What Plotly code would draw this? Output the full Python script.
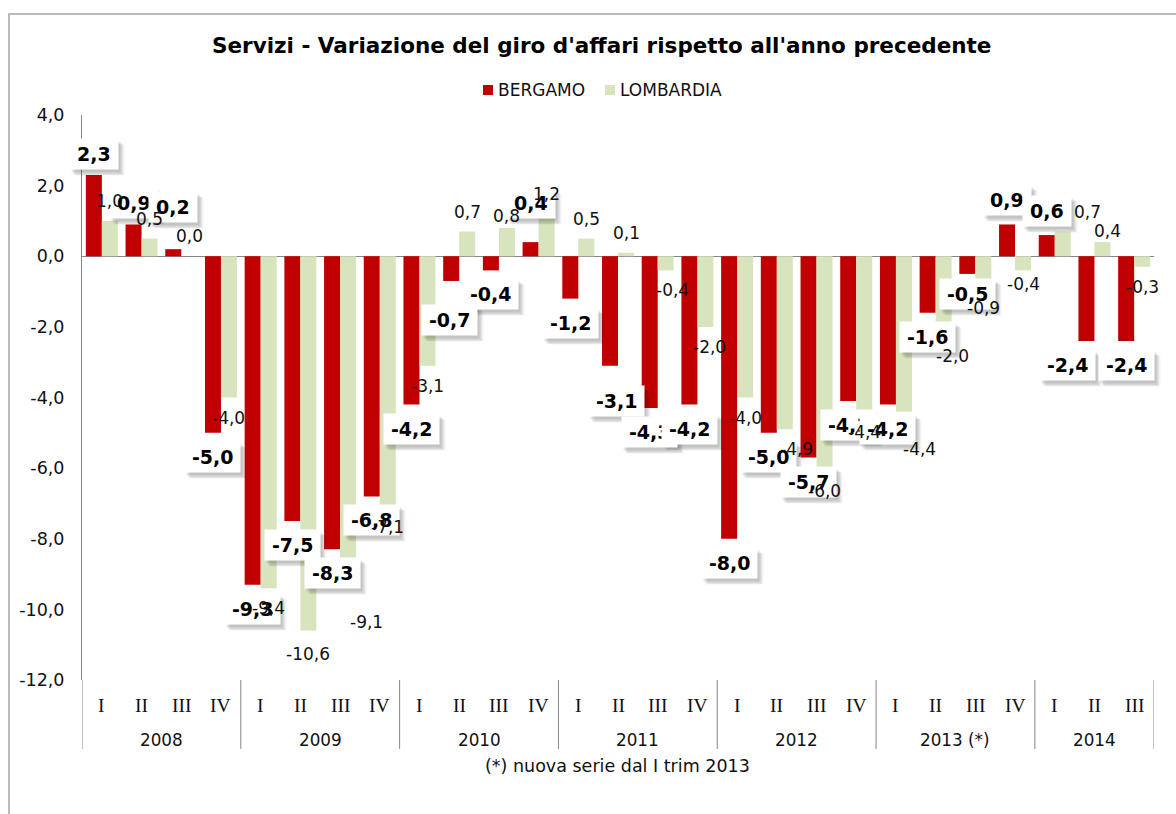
import plotly.graph_objects as go

# ---- data -------------------------------------------------------------
quarters = ["I", "II", "III", "IV"] * 6 + ["I", "II", "III"]
years = ["2008", "2009", "2010", "2011", "2012", "2013 (*)", "2014"]
quarters_per_year = [4, 4, 4, 4, 4, 4, 3]

bergamo = [2.3, 0.9, 0.2, -5.0,
           -9.3, -7.5, -8.3, -6.8,
           -4.2, -0.7, -0.4, 0.4,
           -1.2, -3.1, -4.3, -4.2,
           -8.0, -5.0, -5.7, -4.1,
           -4.2, -1.6, -0.5, 0.9,
           0.6, -2.4, -2.4]

lombardia = [1.0, 0.5, 0.0, -4.0,
             -9.4, -10.6, -9.1, -7.1,
             -3.1, 0.7, 0.8, 1.2,
             0.5, 0.1, -0.4, -2.0,
             -4.0, -4.9, -6.0, -4.4,
             -4.4, -2.0, -0.9, -0.4,
             0.7, 0.4, -0.3]

y_ticks = [4, 2, 0, -2, -4, -6, -8, -10, -12]

# manual nudges (dx, dy in px, dy downward) for labels that would collide
red_nudge = {0: (0, 3), 1: (0, 3), 2: (0, -18), 9: (-2, 15), 11: (0, -15),
             13: (6, 11), 22: (0, -4), 25: (-19, 0)}
green_nudge = {5: (0, 3), 6: (18, 24), 10: (0, 8), 14: (7, 0), 15: (4, 0),
               17: (12, 0), 18: (0, 3), 20: (16, 17), 21: (9, 9), 23: (0, -6),
               24: (25, 0), 25: (5, 9)}

# ---- styling ------------------------------------------------------------
RED = "#C00000"
GREEN = "#D7E4BD"
AXIS = "#868686"
TXT = "#111111"
SANS = "DejaVu Sans, Verdana, sans-serif"
SERIF = "Liberation Serif, Times New Roman, serif"

W, H = 1176, 814
ML, MR, MT, MB = 82, 22, 115, 134
PW, PH = W - ML - MR, H - MT - MB


def fx(px):
    return (px - ML) / PW


def fy(py):
    return 1 - (py - MT) / PH


def fmt(v):
    return f"{v:.1f}".replace(".", ",")


n = len(quarters)
xs = list(range(n))

fig = go.Figure()
fig.add_bar(x=xs, y=bergamo, name="BERGAMO", marker_color=RED,
            marker_line_width=0)
fig.add_bar(x=xs, y=lombardia, name="LOMBARDIA", marker_color=GREEN,
            marker_line_width=0)

annotations = []
shapes = []

# bold value boxes for BERGAMO, with a soft drop shadow
BOLD_W = {"-": 0.411, ",": 0.38}
LBL_SIZE = 19


def box_width(text):
    return sum(BOLD_W.get(c, 0.696) for c in text) * LBL_SIZE + 14


shadow_layers = [(2, 3, "rgba(0,0,0,0.09)"), (4, 5, "rgba(0,0,0,0.11)"),
                 (6, 6, "rgba(0,0,0,0.05)")]
boxes = []
for i, v in enumerate(bergamo):
    dx, dy = red_nudge.get(i, (0, 0))
    s = 1 if v >= 0 else -1
    xsft = -8 + dx
    ysft = s * 24 - dy
    t = fmt(v)
    for ox, oy, col in shadow_layers:
        annotations.append(dict(
            x=i, y=v, xref="x", yref="y", text=t, showarrow=False,
            xshift=xsft + ox, yshift=ysft - oy, xanchor="center", yanchor="middle",
            font=dict(family=SANS, size=LBL_SIZE, color="rgba(0,0,0,0)"),
            bgcolor=col, width=box_width(t), height=30, borderpad=0))
    boxes.append(dict(
        x=i, y=v, xref="x", yref="y", text="<b>" + t + "</b>", showarrow=False,
        xshift=xsft, yshift=ysft, xanchor="center", yanchor="middle",
        font=dict(family=SANS, size=LBL_SIZE, color="#000000"),
        bgcolor="#FFFFFF", width=box_width(t), height=30, borderpad=0))
annotations += boxes

# plain value labels for LOMBARDIA
for i, v in enumerate(lombardia):
    dx, dy = green_nudge.get(i, (0, 0))
    s = 1 if v >= 0 else -1
    annotations.append(dict(
        x=i, y=v, xref="x", yref="y", text=fmt(v), showarrow=False,
        xshift=8 + dx, yshift=s * 20 - dy, xanchor="center", yanchor="middle",
        font=dict(family=SANS, size=17, color=TXT)))

# two-level category axis: quarters and years
for i, q in enumerate(quarters):
    annotations.append(dict(
        x=i, y=fy(705), xref="x", yref="paper", text=q, showarrow=False,
        xanchor="center", yanchor="middle",
        font=dict(family=SERIF, size=19.5, color=TXT)))

start = 0
bounds = [-0.5]
for yr, k in zip(years, quarters_per_year):
    annotations.append(dict(
        x=start + (k - 1) / 2, y=fy(740), xref="x", yref="paper", text=yr,
        showarrow=False, xanchor="center", yanchor="middle",
        font=dict(family=SANS, size=16.8, color=TXT)))
    start += k
    bounds.append(start - 0.5)

for b in bounds:
    shapes.append(dict(type="line", xref="x", yref="paper", x0=b, x1=b,
                       y0=fy(680), y1=fy(749), line=dict(color=AXIS, width=1)))

# title, legend and footnote
annotations.append(dict(
    x=fx(601), y=fy(45), xref="paper", yref="paper", showarrow=False,
    text="<b>Servizi - Variazione del giro d'affari rispetto all'anno precedente</b>",
    xanchor="center", yanchor="middle",
    font=dict(family=SANS, size=21.5, color="#000000")))

for x0, col, name in [(483, RED, "BERGAMO"), (605, GREEN, "LOMBARDIA")]:
    shapes.append(dict(type="rect", xref="paper", yref="paper",
                       x0=fx(x0), x1=fx(x0 + 10), y0=fy(95), y1=fy(85),
                       fillcolor=col, line=dict(width=0)))
    annotations.append(dict(
        x=fx(x0 + 13), y=fy(90), xref="paper", yref="paper", text=name,
        showarrow=False, xanchor="left", yanchor="middle",
        font=dict(family=SANS, size=17, color=TXT)))

annotations.append(dict(
    x=fx(617), y=fy(766), xref="paper", yref="paper",
    text="(*) nuova serie dal I trim 2013", showarrow=False,
    xanchor="center", yanchor="middle",
    font=dict(family=SANS, size=17.5, color=TXT)))

# outer chart frame
shapes.append(dict(type="rect", xref="paper", yref="paper",
                   x0=fx(9), x1=fx(1200), y0=fy(840), y1=fy(14),
                   line=dict(color="#A6A6A6", width=1.5), layer="below"))

fig.update_layout(
    width=W, height=H,
    margin=dict(l=ML, r=MR, t=MT, b=MB),
    paper_bgcolor="#FFFFFF", plot_bgcolor="#FFFFFF",
    barmode="group", bargap=0.194, bargroupgap=0,
    showlegend=False,
    annotations=annotations, shapes=shapes,
    font=dict(family=SANS, color=TXT),
    xaxis=dict(range=[-0.5, n - 0.5], showticklabels=False, showgrid=False,
               zeroline=False, showline=False, ticks=""),
    yaxis=dict(range=[-12, 4], tickvals=y_ticks,
               ticktext=[fmt(v) for v in y_ticks],
               showgrid=False, zeroline=True, zerolinecolor=AXIS,
               zerolinewidth=1, showline=True, linecolor=AXIS, linewidth=1,
               ticks="", ticklabelstandoff=13,
               tickfont=dict(family=SANS, size=17.5, color=TXT)),
)

fig.write_html("out.html")
